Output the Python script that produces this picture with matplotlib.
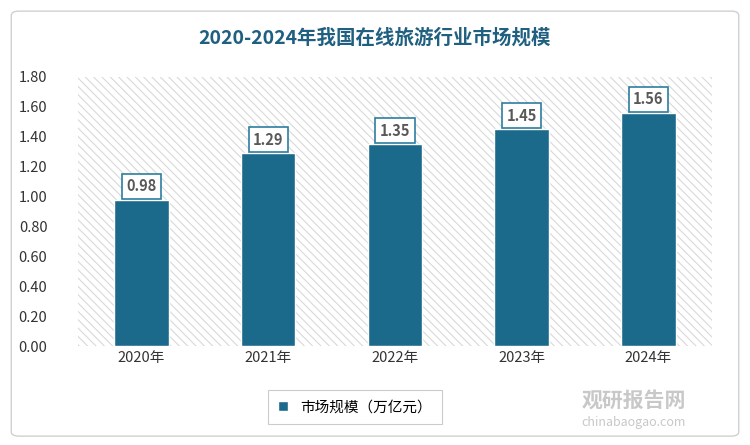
import matplotlib.pyplot as plt
import matplotlib.patches as mpatches

plt.rcParams['font.family'] = ['Noto Sans CJK SC', 'Noto Sans CJK JP', 'Noto Sans CJK TC', 'Noto Sans CJK KR', 'DejaVu Sans']
plt.rcParams['hatch.linewidth'] = 0.8

years = ['2020年', '2021年', '2022年', '2023年', '2024年']
values = [0.98, 1.29, 1.35, 1.45, 1.56]
yticks = [0.0, 0.2, 0.4, 0.6, 0.8, 1.0, 1.2, 1.4, 1.6, 1.8]
bar_color = '#1b6a8c'

fig = plt.figure(figsize=(7.5, 4.45), dpi=100)
frame = mpatches.FancyBboxPatch((0.015, 0.02), 0.97, 0.955, boxstyle='round,pad=0,rounding_size=0.01',
                                transform=fig.transFigure, facecolor='white', edgecolor='#d0d0d0', lw=1, zorder=-5)
fig.patches.append(frame)
ax = fig.add_axes([0.104, 0.222, 0.845, 0.605])
ax.set_facecolor('white')
ax.add_patch(mpatches.Rectangle((0, 0), 1, 1, transform=ax.transAxes, facecolor='white',
                                edgecolor='#d9d9d9', lw=0, hatch='\\\\\\\\', zorder=0))

x = range(len(years))
ax.bar(x, values, width=0.43, color=bar_color, edgecolor='white', lw=1, zorder=2, label='市场规模（万亿元）')
for xi, v in zip(x, values):
    ax.text(xi, v + 0.09, f'{v:.2f}', ha='center', va='center', fontsize=10.5, fontweight='bold', color='#595959',
            bbox=dict(boxstyle='square,pad=0.3', facecolor='white', edgecolor='#2e7ea0', lw=1.2), zorder=3)

ax.set_xlim(-0.5, 4.5)
ax.set_ylim(0, 1.8)
ax.set_yticks(yticks)
ax.set_yticklabels([f'{t:.2f}' for t in yticks], fontsize=10.5, color='#333333')
ax.set_xticks(list(x))
ax.set_xticklabels(years, fontsize=10.5, color='#333333')
ax.tick_params(length=0)
ax.tick_params(axis='y', pad=22)
for s in ax.spines.values():
    s.set_visible(False)

fig.text(0.5, 0.915, '2020-2024年我国在线旅游行业市场规模', ha='center', va='center', fontsize=14,
         fontweight='bold', color='#1f5f80')
leg = fig.legend(loc='center', bbox_to_anchor=(0.473, 0.085), fontsize=10.5, frameon=True, fancybox=False,
                 edgecolor='#bfbfbf', handlelength=0.7, handleheight=0.7, borderpad=0.7)
leg.get_frame().set_linewidth(0.8)
fig.text(0.915, 0.1, '观研报告网', ha='right', va='center', fontsize=15, fontweight='bold', color='#c8c8c8')
fig.text(0.915, 0.05, 'chinabaogao.com', ha='right', va='center', fontsize=9, color='#c8c8c8')

fig.savefig('out.png', dpi=100)
